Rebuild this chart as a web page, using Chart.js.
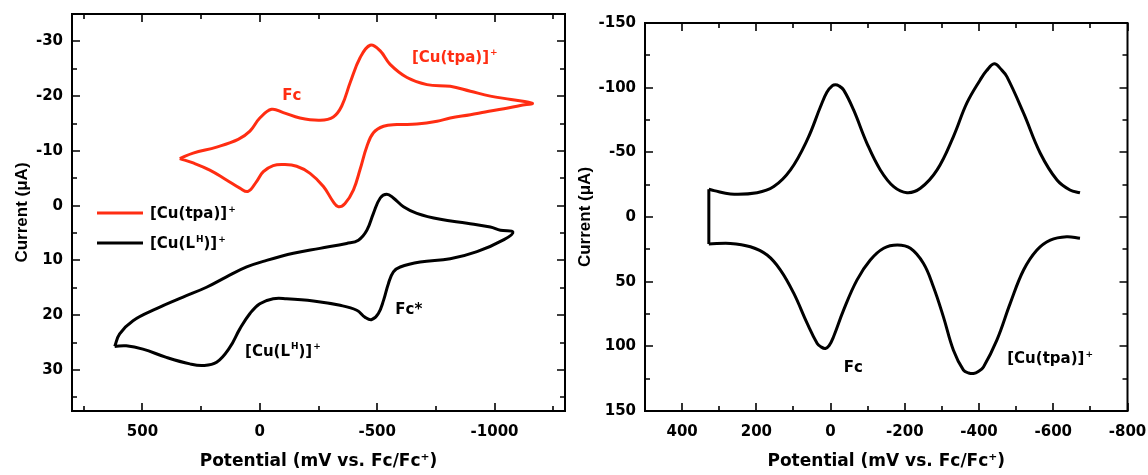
<!DOCTYPE html>
<html>
<head>
<meta charset="utf-8">
<script src="https://cdn.jsdelivr.net/npm/chart.js@4.4.1/dist/chart.umd.min.js"></script>
<style>
  html, body { margin: 0; padding: 0; background: #fff; }
  #page { position: relative; width: 1148px; height: 475px; }
  canvas { position: absolute; top: 0; }
  #cv { left: 0; }
  #dpv { left: 575px; }
</style>
</head>
<body>
<div id="page">
  <canvas id="cv" width="575" height="475"></canvas>
  <canvas id="dpv" width="573" height="475"></canvas>
</div>
<script>
// cyclic voltammograms (mV vs Fc/Fc+, uA)
const tpaPotential = [341, 284, 184, 92, 42, 0, -50, -100, -171, -257, -313, -349, -385, -427, -470, -512, -555, -627, -712, -811, -897, -982, -1070, -1161,
  -1110, -1040, -960, -897, -811, -755, -669, -584, -527, -484, -456, -427, -399, -363, -335, -313, -271, -214, -157, -100, -57, -15, 14, 50, 85, 142, 213, 284, 341];
const tpaCurrent = [-8.6, -9.6, -10.7, -12.1, -13.6, -16, -17.6, -17, -16, -15.6, -16.2, -18.2, -22.5, -27, -29.3, -28.3, -25.8, -23.4, -22.1, -21.8, -20.9, -20, -19.4, -18.7,
  -18.3, -17.7, -17.1, -16.6, -16, -15.4, -14.9, -14.8, -14.5, -13.3, -10.8, -6.6, -2.9, -0.4, 0.2, -0.7, -3.5, -5.9, -7.2, -7.5, -7.3, -6.2, -4.4, -2.6, -3.2, -4.7, -6.5, -7.8, -8.6];

const lhPotential = [618, 597, 540, 440, 327, 227, 142, 56, -29, -143, -256, -370, -420, -456, -484, -513, -541, -569, -612, -669, -769, -883, -982, -1025, -1078,
  -1040, -925, -811, -683, -598, -569, -548, -527, -505, -477, -449, -413, -342, -228, -114, -57, 0, 42, 85, 128, 184, 242, 298, 398, 498, 569, 618];
const lhCurrent = [25.7, 23.4, 21, 18.8, 16.7, 14.9, 13, 11.2, 10, 8.7, 7.8, 6.9, 6.3, 4.5, 1.4, -1.4, -2.1, -1.4, 0.2, 1.4, 2.5, 3.2, 3.9, 4.5, 4.8,
  6.2, 8.4, 9.7, 10.3, 11.2, 12.1, 14.2, 17.3, 19.7, 20.8, 20.4, 19.1, 18.2, 17.4, 17, 17, 17.9, 19.7, 22.5, 25.9, 28.6, 29.2, 28.9, 27.7, 26.2, 25.6, 25.7];

// differential pulse scans
const dpvOutPotential = [328, 314, 270, 198, 153, 108, 63, 27, 10, -5, -13, -22, -35, -62, -98, -134, -170, -206, -242, -287, -331, -367, -403, -420, -441, -460, -475, -520, -565, -610, -645, -672];
const dpvOutCurrent = [-21.4, -20.4, -17.8, -18.8, -23.5, -36.4, -59.6, -85.4, -96.5, -101.5, -102.2, -101.5, -98.3, -82.8, -57, -36.4, -23.5, -18.8, -22.2, -36.4, -62.2, -88, -106, -113, -118.5, -114, -108.5, -80.3, -49.3, -28.6, -20.9, -18.8];
const dpvBackPotential = [-672, -636, -592, -556, -520, -484, -448, -412, -398, -385, -372, -358, -331, -304, -277, -250, -215, -180, -143, -107, -71, -35, -8, 4, 14, 25, 36, 63, 99, 135, 171, 216, 270, 328];
const dpvBackCurrent = [16.5, 15.2, 17.8, 25.5, 41, 66.8, 95.2, 115.9, 119.5, 121, 120.6, 118.4, 103, 77.2, 53.9, 35.8, 24.2, 21.7, 24.2, 33.3, 48.8, 72, 92.6, 99.5, 101.6, 100.6, 97.8, 82.3, 59.1, 41, 29.4, 23, 20.4, 20.9];

// labelled ticks
const cvPotentialLabels = [500, 0, -500, -1000];
const cvCurrentLabels = [-30, -20, -10, 0, 10, 20, 30];
const dpvPotentialLabels = [400, 200, 0, -200, -400, -600, -800];
const dpvCurrentLabels = [-150, -100, -50, 0, 50, 100, 150];

const TXT = "'DejaVu Sans', sans-serif";
const RED = '#ff2d12';

const pts = (xs, ys) => xs.map((x, i) => ({ x, y: ys[i] }));

function drawRich(ctx, parts, x, cy, size, color, align) {
  const base = cy + size * 0.36;
  let w = 0;
  for (const [t, sup] of parts) {
    ctx.font = `bold ${sup ? Math.round(size * 0.62) : size}px ${TXT}`;
    w += ctx.measureText(t).width + (sup ? 1 : 0);
  }
  let cx = align === 'center' ? x - w / 2 : x;
  ctx.fillStyle = color;
  ctx.textAlign = 'left';
  ctx.textBaseline = 'alphabetic';
  for (const [t, sup] of parts) {
    ctx.font = `bold ${sup ? Math.round(size * 0.62) : size}px ${TXT}`;
    ctx.fillText(t, cx + (sup ? 1 : 0), sup ? base - size * 0.45 : base);
    cx += ctx.measureText(t).width + (sup ? 1 : 0);
  }
}

// closed frame, inward ticks on all four sides, text notes and the legend
const frame = {
  id: 'frame',
  afterDraw(chart, args, opts) {
    const { ctx, chartArea: a } = chart;
    ctx.save();
    ctx.strokeStyle = '#000';
    ctx.lineWidth = 2;
    ctx.strokeRect(a.left, a.top, a.right - a.left, a.bottom - a.top);
    ctx.lineWidth = 1.6;
    ctx.beginPath();
    for (const id of ['x', 'y']) {
      const s = chart.scales[id];
      const labels = opts.labels[id];
      for (const t of s.ticks) {
        const v = Math.round(t.value);
        const len = labels.includes(v) ? 8 : 5;
        const p = Math.round(s.getPixelForValue(v));
        if (id === 'x') {
          ctx.moveTo(p, a.bottom); ctx.lineTo(p, a.bottom - len);
          ctx.moveTo(p, a.top); ctx.lineTo(p, a.top + len);
        } else {
          ctx.moveTo(a.left, p); ctx.lineTo(a.left + len, p);
          ctx.moveTo(a.right, p); ctx.lineTo(a.right - len, p);
        }
      }
    }
    ctx.stroke();

    const sx = chart.scales.x, sy = chart.scales.y;
    for (const n of opts.notes) {
      drawRich(ctx, n.parts, sx.getPixelForValue(n.x), sy.getPixelForValue(n.y), 15, n.color, n.align);
    }

    (opts.legend || []).forEach((item, i) => {
      const y = a.top + 199 + i * 30;
      ctx.strokeStyle = item.color;
      ctx.lineWidth = 3;
      ctx.beginPath();
      ctx.moveTo(a.left + 25, y);
      ctx.lineTo(a.left + 71, y);
      ctx.stroke();
      drawRich(ctx, item.parts, a.left + 78, y, 15, '#000');
    });
    ctx.restore();
  }
};

function axis(min, max, step, labels, title, titleFont, fitSize, pad, horizontal) {
  return {
    type: 'linear', min, max, reverse: true,
    grid: { display: false, drawTicks: false },
    border: { display: false },
    ticks: {
      stepSize: step, autoSkip: false, maxRotation: 0, includeBounds: false,
      padding: horizontal ? 12 : 9, color: '#000',
      font: { family: TXT, size: 15, weight: 'bold' },
      callback: v => labels.includes(Math.round(v)) ? String(Math.round(v)) : ''
    },
    title: { display: true, text: title, color: '#000', font: titleFont, padding: pad },
    afterFit: s => {
      if (horizontal) s.height = fitSize; else s.width = fitSize;
      // edge labels may hang over, the layout padding leaves room for them
      s.paddingTop = s.paddingBottom = s.paddingLeft = s.paddingRight = 0;
    }
  };
}

const xTitleFont = { family: TXT, size: 17, weight: 'bold' };
const yTitleFont = { family: "'Liberation Sans', Arial, sans-serif", size: 17, weight: 'bold' };

new Chart(document.getElementById('cv'), {
  type: 'scatter',
  data: {
    datasets: [
      { label: '[Cu(tpa)]+', data: pts(tpaPotential, tpaCurrent), borderColor: RED, borderWidth: 3, showLine: true, pointRadius: 0, tension: 0.4 },
      { label: '[Cu(LH)]+', data: pts(lhPotential, lhCurrent), borderColor: '#000', borderWidth: 3, showLine: true, pointRadius: 0, tension: 0.4 }
    ]
  },
  options: {
    responsive: false,
    animation: false,
    events: [],
    layout: { padding: { left: 0, top: 14, right: 10, bottom: 0 } },
    scales: {
      x: axis(-1300, 800, 250, cvPotentialLabels, 'Potential (mV vs. Fc/Fc⁺)', xTitleFont, 64, { bottom: 3 }, true),
      y: axis(-35, 37.5, 5, cvCurrentLabels, 'Current (μA)', yTitleFont, 72, { top: 12 }, false)
    },
    plugins: {
      legend: { display: false },
      tooltip: { enabled: false },
      frame: {
        labels: { x: cvPotentialLabels, y: cvCurrentLabels },
        notes: [
          { x: -136, y: -20.3, parts: [['Fc']], color: RED, align: 'center' },
          { x: -648, y: -27.3, parts: [['[Cu(tpa)]'], ['+', 1]], color: RED },
          { x: -577, y: 18.8, parts: [['Fc*']], color: '#000' },
          { x: 63, y: 26.5, parts: [['[Cu(L'], ['H', 1], [')]'], ['+', 1]], color: '#000' }
        ],
        legend: [
          { color: RED, parts: [['[Cu(tpa)]'], ['+', 1]] },
          { color: '#000', parts: [['[Cu(L'], ['H', 1], [')]'], ['+', 1]] }
        ]
      }
    }
  },
  plugins: [frame]
});

const dpvStep = [
  { x: dpvBackPotential[dpvBackPotential.length - 1], y: dpvBackCurrent[dpvBackCurrent.length - 1] },
  { x: dpvOutPotential[0], y: dpvOutCurrent[0] }
];

new Chart(document.getElementById('dpv'), {
  type: 'scatter',
  data: {
    datasets: [
      { data: pts(dpvBackPotential, dpvBackCurrent), borderColor: '#000', borderWidth: 3, showLine: true, pointRadius: 0, tension: 0.4 },
      { data: dpvStep, borderColor: '#000', borderWidth: 3, showLine: true, pointRadius: 0, tension: 0 },
      { data: pts(dpvOutPotential, dpvOutCurrent), borderColor: '#000', borderWidth: 3, showLine: true, pointRadius: 0, tension: 0.4 }
    ]
  },
  options: {
    responsive: false,
    animation: false,
    events: [],
    layout: { padding: { left: 0, top: 23, right: 20.5, bottom: 0 } },
    scales: {
      x: axis(-800, 500, 100, dpvPotentialLabels, 'Potential (mV vs. Fc/Fc⁺)', xTitleFont, 64, { bottom: 3 }, true),
      y: axis(-150, 150, 25, dpvCurrentLabels, 'Current (μA)', yTitleFont, 70, { top: 0 }, false)
    },
    plugins: {
      legend: { display: false },
      tooltip: { enabled: false },
      frame: {
        labels: { x: dpvPotentialLabels, y: dpvCurrentLabels },
        notes: [
          { x: -61, y: 115.9, parts: [['Fc']], color: '#000', align: 'center' },
          { x: -476, y: 109, parts: [['[Cu(tpa)]'], ['+', 1]], color: '#000' }
        ]
      }
    }
  },
  plugins: [frame]
});
</script>
</body>
</html>
